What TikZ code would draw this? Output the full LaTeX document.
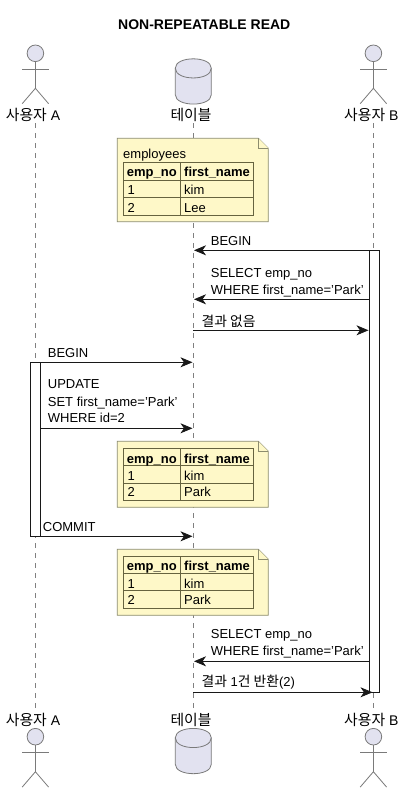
\documentclass[tikz,border=0pt]{standalone}
\usepackage{fontspec}
\setmainfont{Liberation Sans}
\newfontfamily\kr[Scale=1.06]{Noto Sans CJK KR}
\usetikzlibrary{arrows.meta}
\definecolor{partfill}{HTML}{E2E2F0}
\definecolor{partline}{HTML}{7A7A7A}
\definecolor{lifeln}{HTML}{808080}
\definecolor{inkc}{HTML}{181818}
\definecolor{notefill}{HTML}{FEF8C8}
\definecolor{noteline}{HTML}{8C8C6E}
\definecolor{tabline}{HTML}{66633F}
\tikzset{
  lifeline/.style={draw=lifeln,line width=.8pt,dash pattern=on 5pt off 5pt},
  partshape/.style={draw=partline,fill=partfill,line width=.8pt},
  stickline/.style={draw=partline,line width=.8pt},
  partlabel/.style={inner sep=0pt,font=\fontsize{14}{16}\selectfont},
  msg/.style={draw=inkc,line width=.85pt,-{Stealth[length=12pt,width=10pt,inset=3.5pt,fill=inkc]}},
  actbar/.style={draw=inkc,fill=white,line width=.85pt},
  msgtext/.style={anchor=base west,inner sep=0pt,text=black,font=\fontsize{13}{15}\selectfont},
  cellhead/.style={anchor=base west,inner sep=0pt,text=black,font=\fontsize{13}{15}\selectfont\bfseries},
  celltext/.style={anchor=base west,inner sep=0pt,text=black,font=\fontsize{13}{15}\selectfont},
  notebox/.style={draw=noteline,fill=notefill,line width=.8pt},
  tabrule/.style={draw=tabline,line width=.8pt},
}
\newcommand{\notetable}[9]{%
  \path[notebox] (117.3,#2) -- (258.3,#2) -- (268.3,#2+10) -- (268.3,#3) -- (117.3,#3) -- cycle;
  \path[notebox] (258.3,#2) -- (258.3,#2+10) -- (268.3,#2+10);
  \path[tabrule] (123.3,#4) rectangle (253.7,#7);
  \path[tabrule] (123.3,#5) -- (253.7,#5);
  \path[tabrule] (123.3,#6) -- (253.7,#6);
  \path[tabrule] (180.3,#4) -- (180.3,#7);
  \node[cellhead] (#1h1) at (126.7,#8) {emp\_no};
  \node[cellhead] (#1h2) at (184,#8) {first\_name};
  \node[celltext] (#1a1) at (127.3,#9) {1};
  \node[celltext] (#1a2) at (184,#9) {kim};
  \lastrow{#1}%
}
\newcommand{\lastrow}[1]{\node[celltext] (#1b1) at (127.3,\rowy) {2};\node[celltext] (#1b2) at (184,\rowy) {\rowname};}
\newcommand{\rowy}{0}
\newcommand{\rowname}{}
\newcommand{\stick}[2]{%
  \path[partshape] (#1,#2) circle (8.3pt);
  \path[stickline] (#1,#2+8.3) -- (#1,#2+35);
  \path[stickline] (#1-13.2,#2+16) -- (#1+13.2,#2+16);
  \path[stickline] (#1-13.2,#2+50.4) -- (#1,#2+35) -- (#1+13.2,#2+50.4);
}
\newcommand{\dbcyl}[2]{%
  \path[partshape] (#1-18,#2+9.5) .. controls (#1-18,#2-3) and (#1+18,#2-3) .. (#1+18,#2+9.5)
     -- (#1+18,#2+36) .. controls (#1+18,#2+48.5) and (#1-18,#2+48.5) .. (#1-18,#2+36) -- cycle;
  \path[partshape,fill=none] (#1-18,#2+9.5) .. controls (#1-18,#2+22.5) and (#1+18,#2+22.5) .. (#1+18,#2+9.5);
}
\begin{document}
\begin{tikzpicture}[x=1pt,y=-1pt]
\useasboundingbox (0,0) rectangle (405,792);
\fill[white] (0,0) rectangle (405,792);

\node[inner sep=0pt,font=\fontsize{14}{16}\selectfont\bfseries] (title) at (204.3,25) {NON-REPEATABLE READ};

% participants
\stick{35.4}{53.3}
\dbcyl{193.3}{58.7}
\stick{373.4}{53.3}
\node[partlabel] (la1) at (33,115) {{\kr 사용자} A};
\node[partlabel] (lt1) at (191,115) {\kr 테이블};
\node[partlabel] (lb1) at (371.3,115) {{\kr 사용자} B};
\stick{35.4}{736.7}
\dbcyl{193.3}{728.3}
\stick{373.4}{736.7}
\node[partlabel] (la2) at (33,720) {{\kr 사용자} A};
\node[partlabel] (lt2) at (191,720) {\kr 테이블};
\node[partlabel] (lb2) at (371.3,720) {{\kr 사용자} B};

% lifelines
\coordinate (atop) at (35.4,123);
\coordinate (abot) at (35.4,708);
\coordinate (ttop) at (193.3,123);
\coordinate (tbot) at (193.3,708);
\coordinate (btop) at (373.4,123);
\coordinate (bbot) at (373.4,708);
\path[lifeline] (atop) -- (abot);
\path[lifeline] (ttop) -- (tbot);
\path[lifeline] (btop) -- (bbot);

% activations
\path[actbar] (30.7,362.3) rectangle (40.3,536.3);
\path[actbar] (369.3,250.3) rectangle (379.3,692.3);

% notes
\renewcommand{\rowy}{212}\renewcommand{\rowname}{Lee}
\notetable{p}{138.3}{221.7}{162.3}{180.3}{197.3}{215.3}{176.7}{194}
\node[celltext] (empl) at (123,158) {employees};
\renewcommand{\rowy}{496.7}\renewcommand{\rowname}{Park}
\notetable{q}{441.3}{507.3}{448.3}{465.3}{483.3}{500.3}{463.3}{480}
\renewcommand{\rowy}{604.3}\renewcommand{\rowname}{Park}
\notetable{r}{549.3}{615.3}{556.3}{573.7}{590.7}{608.7}{570.3}{588}

% messages
\coordinate (m1s) at (369.3,250.3); \coordinate (m1e) at (194,250.3);
\coordinate (m2s) at (369.3,299.3); \coordinate (m2e) at (194,299.3);
\coordinate (m3s) at (193.3,330.3); \coordinate (m3e) at (368.5,330.3);
\coordinate (m4s) at (40.3,362.3);  \coordinate (m4e) at (192.5,362.3);
\coordinate (m5s) at (40.3,428.3);  \coordinate (m5e) at (192.5,428.3);
\coordinate (m6s) at (40.3,536.3);  \coordinate (m6e) at (192.5,536.3);
\coordinate (m7s) at (369.3,661.3); \coordinate (m7e) at (194,661.3);
\coordinate (m8s) at (193.3,692.3); \coordinate (m8e) at (372.5,692.3);
\draw[msg] (m1s) -- (m1e);
\draw[msg] (m2s) -- (m2e);
\draw[msg] (m3s) -- (m3e);
\draw[msg] (m4s) -- (m4e);
\draw[msg] (m5s) -- (m5e);
\draw[msg] (m6s) -- (m6e);
\draw[msg] (m7s) -- (m7e);
\draw[msg] (m8s) -- (m8e);

% message labels
\node[msgtext] (t1) at (210.7,245) {BEGIN};
\node[msgtext] (t2a) at (210.7,277.7) {SELECT emp\_no};
\node[msgtext] (t2b) at (210.7,294) {WHERE first\_name='Park'};
\node[msgtext] (t3) at (201.5,326) {\kr 결과 없음};
\node[msgtext] (t4) at (47.7,357) {BEGIN};
\node[msgtext] (t5a) at (47.7,388) {UPDATE};
\node[msgtext] (t5b) at (47.7,406) {SET first\_name='Park'};
\node[msgtext] (t5c) at (47.7,422.7) {WHERE id=2};
\node[msgtext] (t6) at (42.7,531) {COMMIT};
\node[msgtext] (t7a) at (210.7,638) {SELECT emp\_no};
\node[msgtext] (t7b) at (210.7,655.7) {WHERE first\_name='Park'};
\node[msgtext] (t8) at (201.5,686.7) {{\kr 결과} 1{\kr 건 반환}(2)};
\end{tikzpicture}
\end{document}
